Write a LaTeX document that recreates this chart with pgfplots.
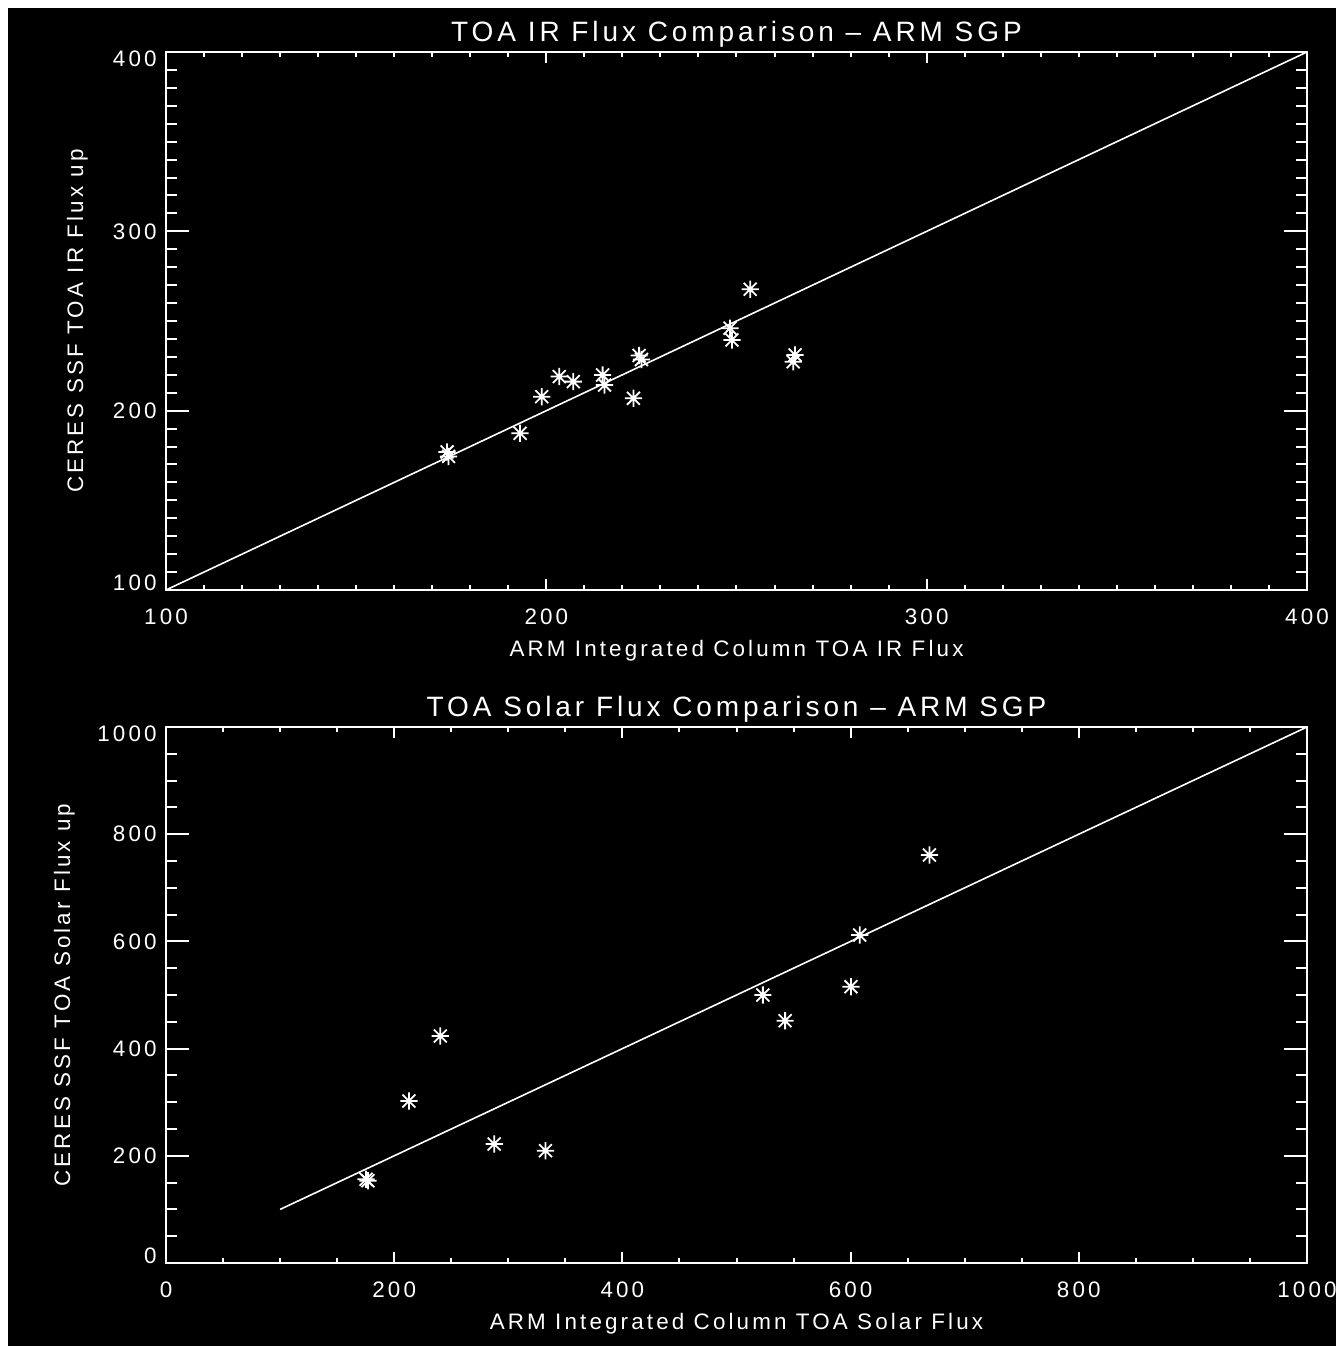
\documentclass[border=0pt]{standalone}
\usepackage{fontspec}
\setmainfont{Liberation Sans}[LetterSpace=14]
\usepackage{pgfplots}
\pgfplotsset{compat=1.18}
\pgfdeclareplotmark{idlstar}{%
  \pgfpathmoveto{\pgfqpoint{-\pgfplotmarksize}{0pt}}\pgfpathlineto{\pgfqpoint{\pgfplotmarksize}{0pt}}%
  \pgfpathmoveto{\pgfqpoint{0pt}{-\pgfplotmarksize}}\pgfpathlineto{\pgfqpoint{0pt}{\pgfplotmarksize}}%
  \pgfpathmoveto{\pgfqpoint{-0.75\pgfplotmarksize}{-0.75\pgfplotmarksize}}\pgfpathlineto{\pgfqpoint{0.75\pgfplotmarksize}{0.75\pgfplotmarksize}}%
  \pgfpathmoveto{\pgfqpoint{-0.75\pgfplotmarksize}{0.75\pgfplotmarksize}}\pgfpathlineto{\pgfqpoint{0.75\pgfplotmarksize}{-0.75\pgfplotmarksize}}%
  \pgfusepathqstroke}
\newcommand\tfont{\fontsize{11.2}{13}\selectfont}
\newcommand\hfont{\fontsize{14}{16}\selectfont}
\pgfplotsset{idl/.style={
  scale only axis, width=570.5pt, anchor=north west,
  axis line style={white, line width=1pt},
  tick style={white, line width=1pt},
  tick align=inside,
  xtick style={/pgfplots/major tick length=5.4pt, /pgfplots/minor tick length=2.7pt},
  ytick style={/pgfplots/major tick length=11.4pt, /pgfplots/minor tick length=5.7pt},
  /pgf/number format/assume math mode=true,
  /pgf/number format/1000 sep={},
  tick label style={text=white, font=\tfont},
  xticklabel style={anchor=base, yshift=-17pt, inner sep=0pt},
  yticklabel style={anchor=east, xshift=-4.5pt, inner sep=0pt},
  label style={text=white, font=\tfont},
  xlabel style={at={(axis description cs:0.5,0)}, anchor=base, yshift=-33pt, inner sep=0pt},
  every axis title/.style={at={(axis description cs:0.5,1)}, anchor=base, yshift=5.5pt, inner sep=0pt, text=white, font=\hfont},
}}
\begin{document}
\begin{tikzpicture}
\useasboundingbox (0,0) rectangle (668pt,-673pt);
\fill[white] (0,0) rectangle (668pt,-673pt);
\fill[black] (3.75pt,-3.75pt) rectangle (668pt,-673pt);
\begin{axis}[idl, at={(83pt,-26pt)}, height=269pt,
  xmin=100, xmax=400, ymin=100, ymax=400,
  xtick={100,200,300,400}, ytick={100,200,300,400},
  yticklabels={\raisebox{3.5pt}[\height][\depth]{100},200,300,\raisebox{-3.5pt}[\height][\depth]{400}},
  minor x tick num=9, minor y tick num=9,
  title={TOA IR Flux Comparison -- ARM SGP},
  xlabel={ARM Integrated Column TOA IR Flux},
  ylabel={CERES SSF TOA IR Flux up},
  ylabel style={at={(axis description cs:-0.0727,0.5)}, anchor=base, inner sep=0pt},
]
\addplot[white, line width=0.8pt] coordinates {(100,100) (400,400)};
\addplot[only marks, mark=idlstar, mark size=4.3pt, white, line width=0.9pt] coordinates {
(173.9,177.0) (174.3,174.5) (193.1,187.4) (198.8,207.8) (203.4,219.0)
(207.1,216.2) (214.8,219.9) (215.3,214.3) (222.9,206.9) (224.4,230.8)
(225.0,228.5) (253.6,267.7) (248.3,246.0) (248.8,239.4) (265.4,231.1)
(264.9,227.3)};
\end{axis}
\begin{axis}[idl, at={(83pt,-363.5pt)}, height=268pt,
  xmin=0, xmax=1000, ymin=0, ymax=1000,
  xtick={0,200,400,600,800,1000}, ytick={0,200,400,600,800,1000},
  yticklabels={\raisebox{3.5pt}[\height][\depth]{0},200,400,600,800,\raisebox{-3.5pt}[\height][\depth]{1000}},
  minor x tick num=3, minor y tick num=3,
  title={TOA Solar Flux Comparison -- ARM SGP},
  xlabel={ARM Integrated Column TOA Solar Flux},
  ylabel={CERES SSF TOA Solar Flux up},
  ylabel style={at={(axis description cs:-0.0841,0.5)}, anchor=base, inner sep=0pt},
]
\addplot[white, line width=0.8pt] coordinates {(100,100) (1000,1000)};
\addplot[only marks, mark=idlstar, mark size=4.3pt, white, line width=0.9pt] coordinates {
(669.1,761.2) (608.0,611.9) (600.3,515.5) (523.1,500.0) (542.6,452.1)
(240.4,423.5) (212.9,302.2) (287.6,222.0) (332.6,209.5) (175.3,156.2)
(177.0,153.5)};
\end{axis}
\end{tikzpicture}
\end{document}
